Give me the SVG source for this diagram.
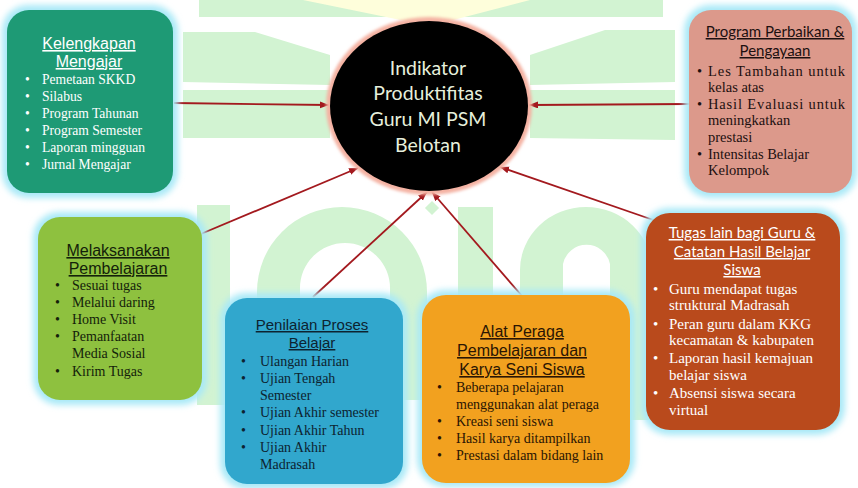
<svg xmlns="http://www.w3.org/2000/svg" width="858" height="488" viewBox="0 0 858 488">
<style>
.bg{fill:#d2f3d2}
.glow{fill:#a9e9f7;filter:url(#blur)}
.ttl{font-family:"Liberation Sans",Arial,sans-serif;font-size:16px;text-anchor:middle;text-decoration:underline}
.ttl2{font-family:Lato,"Liberation Sans",sans-serif;font-size:15px;text-anchor:middle;text-decoration:underline}
.itm{font-family:"Liberation Serif","Times New Roman",serif;font-size:14px}
.ctr{font-family:Lato,"Open Sans",sans-serif;font-size:19.5px;fill:#e6efdc;text-anchor:middle}
.conn{stroke:#a3191e;stroke-width:1.8;fill:none;marker-end:url(#arr)}
</style>
<defs>
<filter id="blur" x="-20%" y="-20%" width="140%" height="140%"><feGaussianBlur stdDeviation="3"/></filter>
<filter id="blur2" x="-20%" y="-20%" width="140%" height="140%"><feGaussianBlur stdDeviation="1.5"/></filter>
<marker id="arr" markerUnits="userSpaceOnUse" markerWidth="10" markerHeight="8" refX="9" refY="3.5" orient="auto"><path d="M0,0 L9,3.5 L0,7 z" fill="#a3191e"/></marker>
</defs>
<rect width="858" height="488" fill="#ffffff"/>
<g id="watermark">
<rect class="bg" x="199" y="0" width="464" height="17"/>
<polygon points="303,0 530,0 430,26" fill="#fefedb"/>
<polygon class="bg" points="183,32 255,32 330,55 330,85 183,82"/>
<polygon class="bg" points="183,90 330,90 330,138 183,138"/>
<polygon class="bg" points="530,55 605,30 675,30 675,82 530,85"/>
<polygon class="bg" points="530,90 675,90 675,140 530,138"/>
<rect class="bg" x="197" y="205" width="33" height="200"/>
<path class="bg" d="M257,400 V292 A85,85 0 0 1 427,292 V400 H390 V288 A45,45 0 0 0 300,288 V400 Z"/>
<rect class="bg" x="458" y="207" width="35" height="100"/>
<rect class="bg" x="427" y="203" width="10" height="10" transform="rotate(45 432 208)"/>
<path class="bg" d="M520,420 V270 A66,63 0 0 1 652,270 V420 H610 V264 A24,24 0 0 0 563,264 V420 Z"/>
</g>
<g id="connectors">
<line class="conn" x1="174" y1="103" x2="329" y2="105"/>
<line class="conn" x1="689" y1="104" x2="529" y2="105"/>
<line class="conn" x1="196" y1="236" x2="358" y2="168"/>
<line class="conn" x1="313" y1="297" x2="427" y2="192"/>
<line class="conn" x1="522" y1="296" x2="432" y2="192"/>
<line class="conn" x1="662" y1="223" x2="500" y2="167"/>
</g>
<g id="center">
<ellipse cx="429" cy="106" rx="103" ry="89" fill="#f4b2a3" filter="url(#blur2)"/>
<ellipse cx="429" cy="106" rx="99" ry="85" fill="#000000"/>
<text class="ctr" x="428" y="75">Indikator</text>
<text class="ctr" x="428" y="100">Produktifitas</text>
<text class="ctr" x="428" y="126">Guru MI PSM</text>
<text class="ctr" x="428" y="152">Belotan</text>
</g>
<g id="kelengkapan">
<rect class="glow" x="2" y="5" width="176" height="193" rx="26"/>
<rect x="7" y="10" width="166" height="183" rx="22" fill="#1e9a75"/>
<g fill="#ffffff">
<text class="ttl" x="89" y="49">Kelengkapan</text>
<text class="ttl" x="89" y="67">Mengajar</text>
<g class="itm" style="font-size:13.6px">
<text x="25" y="84">•</text><text x="42" y="84">Pemetaan SKKD</text>
<text x="25" y="101">•</text><text x="42" y="101">Silabus</text>
<text x="25" y="118">•</text><text x="42" y="118">Program Tahunan</text>
<text x="25" y="135">•</text><text x="42" y="135">Program Semester</text>
<text x="25" y="152">•</text><text x="42" y="152">Laporan mingguan</text>
<text x="25" y="169">•</text><text x="42" y="169">Jurnal Mengajar</text>
</g>
</g>
</g>
<g id="perbaikan">
<rect class="glow" x="684" y="5" width="173" height="193" rx="26"/>
<rect x="689" y="10" width="163" height="183" rx="22" fill="#dc998b"/>
<g fill="#1c1010">
<text class="ttl2" x="775" y="37">Program Perbaikan &amp;</text>
<text class="ttl2" x="775" y="56">Pengayaan</text>
<g class="itm" style="font-size:14.5px">
<text x="697" y="76">•</text><text x="708" y="76" textLength="137" lengthAdjust="spacing">Les Tambahan untuk</text>
<text x="708" y="92">kelas atas</text>
<text x="697" y="109">•</text><text x="708" y="109" textLength="137" lengthAdjust="spacing">Hasil Evaluasi untuk</text>
<text x="708" y="125">meningkatkan</text>
<text x="708" y="142">prestasi</text>
<text x="697" y="159">•</text><text x="708" y="159">Intensitas Belajar</text>
<text x="708" y="175">Kelompok</text>
</g>
</g>
</g>
<g id="melaksanakan">
<rect class="glow" x="33" y="212" width="174" height="193" rx="26"/>
<rect x="38" y="217" width="164" height="183" rx="22" fill="#8ec13f"/>
<g fill="#14210a">
<text class="ttl" x="118" y="256">Melaksanakan</text>
<text class="ttl" x="118" y="274">Pembelajaran</text>
<g class="itm">
<text x="55" y="290">•</text><text x="72" y="290">Sesuai tugas</text>
<text x="55" y="307">•</text><text x="72" y="307">Melalui daring</text>
<text x="55" y="324">•</text><text x="72" y="324">Home Visit</text>
<text x="55" y="341">•</text><text x="72" y="341">Pemanfaatan</text>
<text x="72" y="358">Media Sosial</text>
<text x="55" y="376">•</text><text x="72" y="376">Kirim Tugas</text>
</g>
</g>
</g>
<g id="penilaian">
<rect class="glow" x="220" y="293" width="188" height="196" rx="26"/>
<rect x="225" y="298" width="178" height="186" rx="22" fill="#31a7cd"/>
<g fill="#0d2330">
<text class="ttl" x="312" y="330" style="font-size:15px">Penilaian Proses</text>
<text class="ttl" x="312" y="348" style="font-size:15px">Belajar</text>
<g class="itm">
<text x="241" y="366">•</text><text x="260" y="366">Ulangan Harian</text>
<text x="241" y="383">•</text><text x="260" y="383">Ujian Tengah</text>
<text x="260" y="400">Semester</text>
<text x="241" y="417">•</text><text x="260" y="417">Ujian Akhir semester</text>
<text x="241" y="435">•</text><text x="260" y="435">Ujian Akhir Tahun</text>
<text x="241" y="452">•</text><text x="260" y="452">Ujian Akhir</text>
<text x="260" y="469">Madrasah</text>
</g>
</g>
</g>
<g id="alat-peraga">
<rect class="glow" x="417" y="290" width="218" height="197" rx="28"/>
<rect x="422" y="295" width="208" height="188" rx="24" fill="#f2a11f"/>
<g fill="#2a1503">
<text class="ttl" x="522" y="337">Alat Peraga</text>
<text class="ttl" x="522" y="356">Pembelajaran dan</text>
<text class="ttl" x="522" y="375">Karya Seni Siswa</text>
<g class="itm">
<text x="437" y="392">•</text><text x="456" y="392">Beberapa pelajaran</text>
<text x="456" y="409">menggunakan alat peraga</text>
<text x="437" y="426">•</text><text x="456" y="426">Kreasi seni siswa</text>
<text x="437" y="443">•</text><text x="456" y="443">Hasil karya ditampilkan</text>
<text x="437" y="460">•</text><text x="456" y="460">Prestasi dalam bidang lain</text>
</g>
</g>
</g>
<g id="tugas-lain">
<rect class="glow" x="641" y="208" width="204" height="227" rx="28"/>
<rect x="646" y="213" width="194" height="217" rx="24" fill="#b94a1c"/>
<g fill="#ffffff">
<text class="ttl2" x="742" y="238">Tugas lain bagi Guru &amp;</text>
<text class="ttl2" x="742" y="257">Catatan Hasil Belajar</text>
<text class="ttl2" x="742" y="275">Siswa</text>
<g class="itm" style="font-size:15px">
<text x="653" y="294">•</text><text x="669" y="294">Guru mendapat tugas</text>
<text x="669" y="310">struktural Madrasah</text>
<text x="653" y="329">•</text><text x="669" y="329">Peran guru dalam KKG</text>
<text x="669" y="345">kecamatan &amp; kabupaten</text>
<text x="653" y="363">•</text><text x="669" y="363">Laporan hasil kemajuan</text>
<text x="669" y="380">belajar siswa</text>
<text x="653" y="398">•</text><text x="669" y="398">Absensi siswa secara</text>
<text x="669" y="415">virtual</text>
</g>
</g>
</g>
</svg>
